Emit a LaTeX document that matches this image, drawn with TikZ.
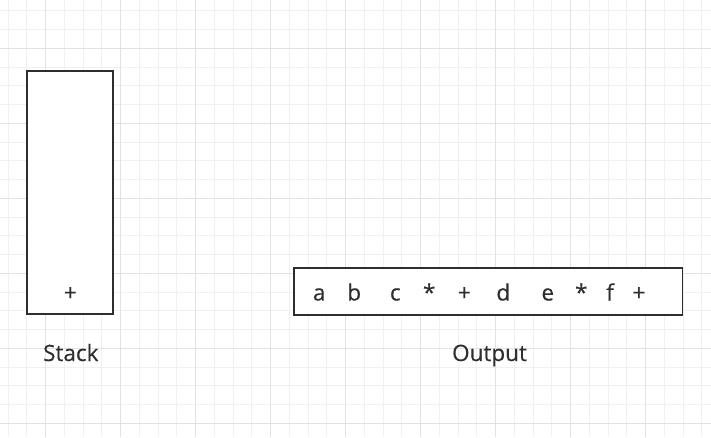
\documentclass[tikz,border=0pt]{standalone}
\usepackage{fontspec}
\setmainfont{Open Sans}[FakeBold=0.3]
\definecolor{inkc}{HTML}{2E2E2E}
\definecolor{gridminor}{HTML}{F0F0F0}
\definecolor{gridmajor}{HTML}{E2E2E2}
\tikzset{
  boxstyle/.style={draw=inkc, line width=1.8pt, fill=white},
  chr/.style={anchor=base, inner sep=0pt, text=inkc, font=\fontsize{22.5}{26}\selectfont},
  lbl/.style={anchor=base, inner sep=0pt, text=inkc, font=\fontsize{22.5}{26}\selectfont}
}
\begin{document}
\begin{tikzpicture}[x=1pt,y=-1pt]
\useasboundingbox (0,0) rectangle (711,437);
\fill[white] (0,0) rectangle (711,437);
% grid
\foreach \i in {0,...,37} {
  \draw[gridminor, line width=1pt] ({8.2+18.75*\i},0) -- ({8.2+18.75*\i},437);
}
\foreach \i in {0,...,23} {
  \draw[gridminor, line width=1pt] (0,{10.8+18.75*\i}) -- (711,{10.8+18.75*\i});
}
\foreach \i in {0,...,9} {
  \draw[gridmajor, line width=1pt] ({45.7+75*\i},0) -- ({45.7+75*\i},437);
}
\foreach \i in {0,...,5} {
  \draw[gridmajor, line width=1pt] (0,{48.3+75*\i}) -- (711,{48.3+75*\i});
}
% stack
\draw[boxstyle] (27.3,71) rectangle (113.3,314.3);
\node[chr] (splus) at (70.3,300.5) {+};
\node[lbl] (stacklbl) at (70.8,361) {Stack};
% output
\draw[boxstyle] (294,267.7) rectangle (682.5,315);
\node[chr] (o1) at (319.2,300.5) {a};
\node[chr] (o2) at (354.2,300.5) {b};
\node[chr] (o3) at (395.3,300.5) {c};
\node[chr] (o4) at (429.2,300.5) {*};
\node[chr] (o5) at (464.3,300.5) {+};
\node[chr] (o6) at (503.3,300.5) {d};
\node[chr] (o7) at (547.8,300.5) {e};
\node[chr] (o8) at (581.3,300.5) {*};
\node[chr] (o9) at (610,300.5) {f};
\node[chr] (o10) at (639,300.5) {+};
\node[lbl] (outlbl) at (489.5,361) {Output};
\end{tikzpicture}
\end{document}
